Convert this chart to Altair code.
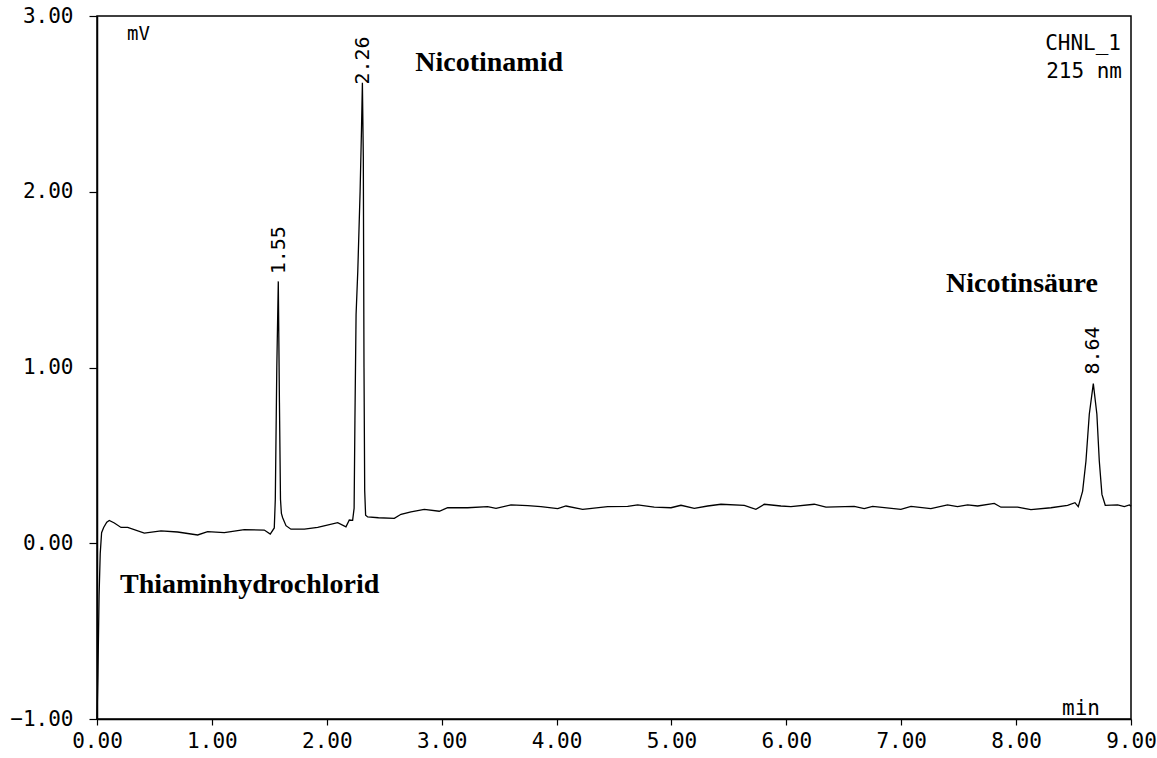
import altair as alt
import pandas as pd

# ---- chromatogram trace (time in min, signal in mV) ----
time_min = [0.0, 0.008, 0.018, 0.028, 0.040, 0.058, 0.085, 0.107, 0.151, 0.209,
            0.267, 0.412, 0.557, 0.702, 0.876, 0.963, 1.108, 1.282, 1.456, 1.508,
            1.543, 1.552, 1.565, 1.578, 1.588, 1.597, 1.605, 1.616, 1.645, 1.688,
            1.805, 1.921, 2.095, 2.167, 2.196, 2.225, 2.238, 2.245, 2.255, 2.270,
            2.290, 2.302, 2.310, 2.318, 2.324, 2.330, 2.338, 2.356, 2.450, 2.588,
            2.646, 2.733, 2.849, 2.979, 3.052, 3.226, 3.400, 3.473, 3.603, 3.749,
            3.864, 4.010, 4.082, 4.227, 4.445, 4.619, 4.706, 4.850, 4.996, 5.083,
            5.199, 5.315, 5.431, 5.634, 5.735, 5.808, 5.953, 6.040, 6.243, 6.345,
            6.591, 6.678, 6.751, 6.997, 7.085, 7.258, 7.403, 7.490, 7.578, 7.665,
            7.810, 7.868, 8.013, 8.129, 8.303, 8.448, 8.512, 8.541, 8.579, 8.608,
            8.637, 8.672, 8.703, 8.724, 8.747, 8.776, 8.884, 8.942, 8.986, 9.0]
signal_mv = [-1.0, -0.75, -0.30, -0.06, 0.06, 0.09, 0.12, 0.13, 0.115, 0.09,
             0.09, 0.058, 0.07, 0.064, 0.047, 0.066, 0.06, 0.077, 0.075, 0.052,
             0.087, 0.25, 1.00, 1.49, 0.80, 0.25, 0.17, 0.145, 0.10, 0.08,
             0.08, 0.09, 0.117, 0.093, 0.132, 0.13, 0.20, 0.70, 1.30, 1.55,
             2.00, 2.35, 2.62, 2.20, 1.00, 0.30, 0.16, 0.15, 0.145, 0.142,
             0.165, 0.178, 0.193, 0.182, 0.202, 0.202, 0.208, 0.199, 0.218, 0.214,
             0.208, 0.197, 0.212, 0.193, 0.208, 0.21, 0.218, 0.206, 0.202, 0.216,
             0.199, 0.212, 0.222, 0.216, 0.193, 0.222, 0.212, 0.208, 0.222, 0.205,
             0.21, 0.197, 0.21, 0.193, 0.21, 0.197, 0.218, 0.208, 0.218, 0.212,
             0.227, 0.205, 0.205, 0.191, 0.202, 0.216, 0.231, 0.208, 0.297, 0.468,
             0.734, 0.908, 0.734, 0.468, 0.278, 0.216, 0.218, 0.208, 0.218, 0.21]

# ---- retention-time labels above the peaks ----
peak_rt_labels = ["1.55", "2.26", "8.64"]
peak_label_x = [1.582, 2.317, 8.672]
peak_label_y = [1.53, 2.61, 0.96]

# ---- compound names ----
compound_names = ["Nicotinamid", "Nicotinsäure", "Thiaminhydrochlorid"]
compound_x = [2.77, 7.39, 0.20]
compound_y = [2.685, 1.43, -0.285]

x_ticks = [0, 1, 2, 3, 4, 5, 6, 7, 8, 9]
y_ticks = [-1, 0, 1, 2, 3]

MONO = "DejaVu Sans Mono"
SERIF = "Liberation Serif"

trace_df = pd.DataFrame({"t": time_min, "v": signal_mv})
peaks_df = pd.DataFrame({"t": peak_label_x, "v": peak_label_y, "lab": peak_rt_labels})
names_df = pd.DataFrame({"t": compound_x, "v": compound_y, "name": compound_names})

x_scale = alt.Scale(domain=[0, 9], nice=False, zero=False)
y_scale = alt.Scale(domain=[-1, 3], nice=False, zero=False)

x_axis = alt.Axis(values=x_ticks, format=".2f", title=None, grid=False,
                  tickSize=6, labelPadding=5, labelFont=MONO, labelFontSize=21,
                  labelColor="black", domainColor="black", tickColor="black",
                  domainWidth=1.5, tickWidth=1.2, labelFlush=False, labelOverlap=False)
y_axis = alt.Axis(values=y_ticks, format=".2f", title=None, grid=False,
                  tickSize=8, labelPadding=16, labelFont=MONO, labelFontSize=21,
                  labelColor="black", domainColor="black", tickColor="black",
                  domainWidth=1.5, tickWidth=1.2, labelFlush=False, labelOverlap=False)

trace = alt.Chart(trace_df).mark_line(color="black", strokeWidth=1.3).encode(
    x=alt.X("t:Q", scale=x_scale, axis=x_axis),
    y=alt.Y("v:Q", scale=y_scale, axis=y_axis),
    order=alt.Order("t:Q"),
)

peak_labels = alt.Chart(peaks_df).mark_text(
    angle=270, align="left", baseline="middle", font=MONO, fontSize=20,
    color="black",
).encode(
    x=alt.X("t:Q", scale=x_scale),
    y=alt.Y("v:Q", scale=y_scale),
    text="lab:N",
)

names = alt.Chart(names_df).mark_text(
    align="left", baseline="alphabetic", font=SERIF, fontSize=28,
    fontWeight="bold", color="black",
).encode(
    x=alt.X("t:Q", scale=x_scale),
    y=alt.Y("v:Q", scale=y_scale),
    text="name:N",
)

def corner_text(txt, x, y, align="left", size=20):
    return alt.Chart(pd.DataFrame({"txt": [txt]})).mark_text(
        align=align, baseline="alphabetic", font=MONO, fontSize=size,
        color="black",
    ).encode(x=alt.value(x), y=alt.value(y), text="txt:N")

mv_txt = corner_text("mV", 30, 24, size=19)
chnl_txt = corner_text("CHNL_1", 1024, 34, align="right", size=21)
nm_txt = corner_text("215 nm", 1025, 62, align="right", size=21)
min_txt = corner_text("min", 965, 699, size=21)

chart = alt.layer(trace, peak_labels, names, mv_txt, chnl_txt, nm_txt, min_txt).properties(
    width=1034,
    height=703,
    autosize=alt.AutoSizeParams(type="none"),
    padding={"left": 97, "top": 16, "right": 26, "bottom": 39},
    background="white",
).configure_view(stroke="black", strokeWidth=1.5)

chart.save("out.html", embed_options={"renderer": "svg", "actions": False})
